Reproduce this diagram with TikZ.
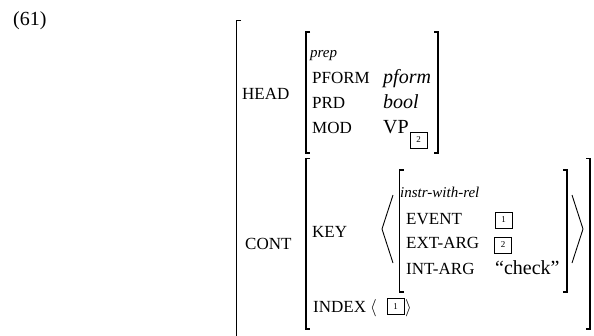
\documentclass[tikz,border=0pt]{standalone}
\usepackage{fontspec}
\setmainfont{Liberation Serif}
\tikzset{
  attr/.style={anchor=base west, inner sep=0pt, font=\fontsize{17}{17}\selectfont},
  val/.style={anchor=base west, inner sep=0pt, font=\fontsize{20}{20}\selectfont},
  avmtype/.style={anchor=base west, inner sep=0pt, font=\fontsize{15}{15}\selectfont\itshape},
  tagbox/.style={draw, line width=0.8pt, minimum width=17pt, minimum height=16pt, inner sep=0pt, font=\fontsize{9}{9}\selectfont},
  brack/.style={line width=1.1pt},
}
\begin{document}
\begin{tikzpicture}[x=1pt, y=-1pt]
\useasboundingbox (0,0) rectangle (594,335);
% example number
\node[val] (num) at (13,25) {(61)};
% outer bracket
\draw[brack] (241,20.5) -- (236.5,20.5) -- (236.5,340);
% HEAD value
\draw[brack] (310,32) -- (306,32) -- (306,153) -- (310,153);
\draw[brack] (434,32) -- (438,32) -- (438,153) -- (434,153);
\node[attr] (head) at (242,99) {HEAD};
\node[avmtype] (prep) at (310,57) {prep};
\node[attr] (pform) at (312,83) {PFORM};
\node[val, font=\fontsize{20}{20}\selectfont\itshape] (pformval) at (383,83) {pform};
\node[attr] (prd) at (312,108) {PRD};
\node[val, font=\fontsize{20}{20}\selectfont\itshape] (prdval) at (383,108) {bool};
\node[attr] (mod) at (312,133) {MOD};
\node[val] (modval) at (383,133) {VP};
\node[tagbox] (tagvp) at (418.5,140) {2};
% CONT value
\draw[brack] (310,158.5) -- (306,158.5) -- (306,329) -- (310,329);
\draw[brack] (586,158.5) -- (590,158.5) -- (590,329) -- (586,329);
\node[attr] (cont) at (245,249) {CONT};
\node[attr] (key) at (312,237) {KEY};
% KEY list
\draw[line width=0.9pt] (393,195) -- (382,229) -- (393,263);
\draw[line width=0.9pt] (572,195) -- (583,229) -- (572,263);
\draw[brack] (403.5,170) -- (399.5,170) -- (399.5,292) -- (403.5,292);
\draw[brack] (563,170) -- (567,170) -- (567,292) -- (563,292);
\node[avmtype] (rel) at (400,197) {instr-with-rel};
\node[attr] (event) at (406,224) {EVENT};
\node[tagbox] (tagevent) at (503.5,220) {1};
\node[attr] (extarg) at (406,248) {EXT-ARG};
\node[tagbox] (tagext) at (503,245) {2};
\node[attr] (intarg) at (406,274) {INT-ARG};
\node[val] (check) at (495,274) {``check''};
% INDEX
\node[attr] (index) at (313,312) {INDEX};
\node[val, font=\fontsize{17}{17}\selectfont] (idxl) at (370,312) {$\langle$};
\node[tagbox] (tagidx) at (395.5,306.5) {1};
\node[val, font=\fontsize{17}{17}\selectfont] (idxr) at (405,312) {$\rangle$};
\end{tikzpicture}
\end{document}
